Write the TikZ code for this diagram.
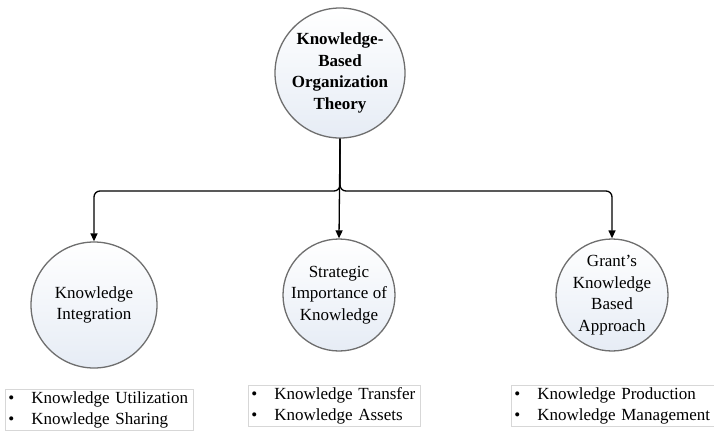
\documentclass[tikz,border=0pt]{standalone}
\usepackage{fontspec}
\setmainfont{Liberation Serif}
\usetikzlibrary{arrows.meta}
\definecolor{circleedge}{RGB}{110,110,110}
\definecolor{circlefill}{RGB}{230,236,245}
\definecolor{boxedge}{RGB}{215,215,215}
\newcommand{\blt}{\makebox[23pt][l]{\textbullet}}
\tikzset{
  concept/.style={circle, draw=circleedge, line width=1.3pt, top color=white, bottom color=circlefill,
    inner sep=0pt, align=center, font=\fontsize{17}{21.5}\selectfont},
  listbox/.style={draw=boxedge, line width=0.6pt, anchor=north west, align=left, inner xsep=3pt, inner ysep=2.5pt,
    font=\fontsize{17}{20.5}\selectfont},
  link/.style={line width=1.3pt, -{Triangle[length=8pt,width=7pt]}, rounded corners=6pt}
}
\begin{document}
\begin{tikzpicture}[x=1pt,y=-1pt]
\useasboundingbox (0,0) rectangle (714,431);
\node[concept, minimum size=130pt, font=\bfseries\fontsize{17}{21.5}\selectfont] (top) at (340,73) {Knowledge-\\Based\\Organization\\Theory};
\node[concept, minimum size=126pt] (ki) at (94,305) {Knowledge\\Integration};
\node[concept, minimum size=112pt] (si) at (339,295) {Strategic\\Importance of\\Knowledge};
\node[concept, minimum size=112pt] (gk) at (612,295) {Grant's\\Knowledge\\Based\\Approach};
\coordinate (j) at (340,191);
\draw[link] (top.south) -- (j) -| (ki.north);
\draw[link] (top.south) -- (j) -| (gk.north);
\draw[link] (top.south) -- (si.north);
\node[listbox, text width=182pt] (l1) at (5,389) {\blt Knowledge Utilization\\\blt Knowledge Sharing};
\node[listbox, text width=166pt] (l2) at (248,385) {\blt Knowledge Transfer\\\blt Knowledge Assets};
\node[listbox, text width=200pt] (l3) at (511,385) {\blt Knowledge Production\\\blt Knowledge Management};
\end{tikzpicture}
\end{document}
